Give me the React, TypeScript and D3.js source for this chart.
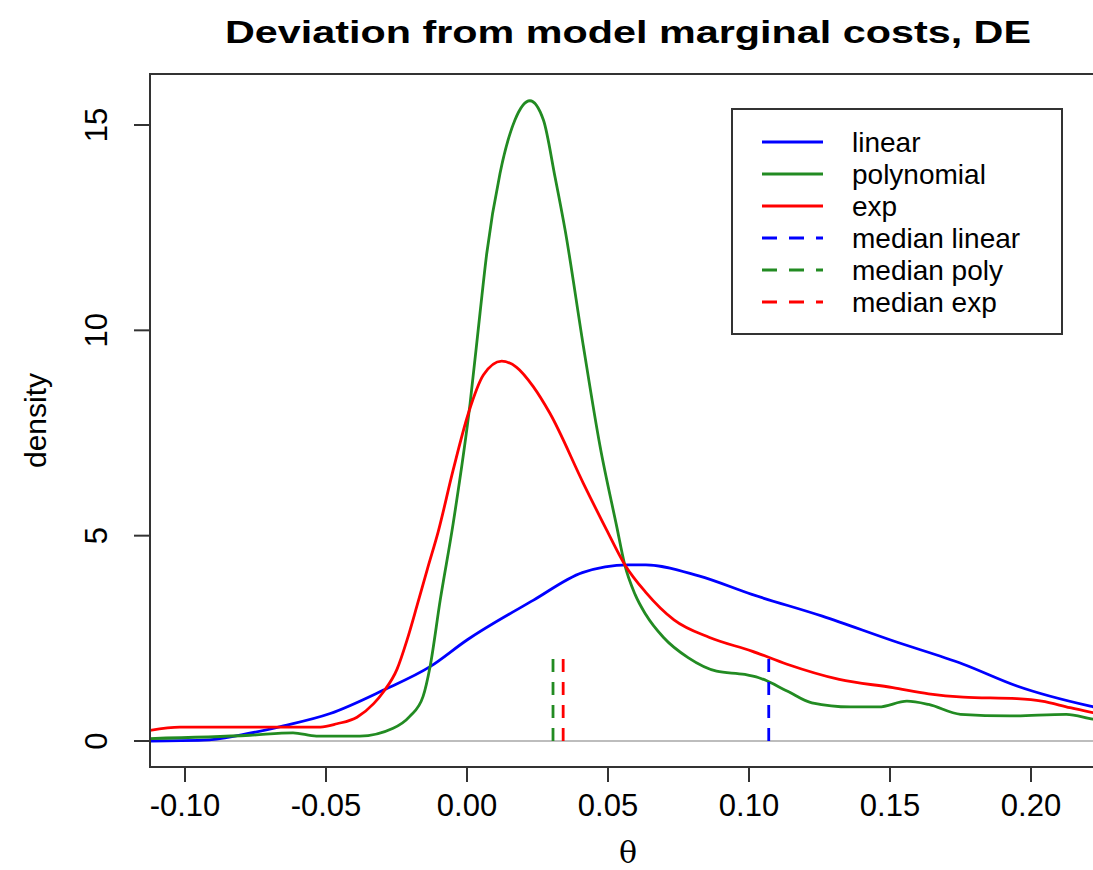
import React from "react";
import * as d3 from "d3";

const linearX = [-0.1124, -0.0935, -0.08, -0.0651, -0.0485, -0.0296, -0.0131, 0.0, 0.0236, 0.0409, 0.0571, 0.0634, 0.0822, 0.101, 0.126, 0.151, 0.176, 0.195, 0.221, 0.23];
const linearY = [0.0, 0.02, 0.15, 0.37, 0.67, 1.24, 1.81, 2.46, 3.43, 4.1, 4.29, 4.29, 4.02, 3.57, 3.04, 2.44, 1.87, 1.34, 0.85, 0.72];

const polyX = [-0.1124, -0.077, -0.0617, -0.0534, -0.038, -0.0262, -0.0203, -0.0156, -0.0131, -0.0095, -0.0049, 0.0011, 0.0046, 0.007, 0.0117, 0.017, 0.0223, 0.0271, 0.0312, 0.0348, 0.0413, 0.0472, 0.0531, 0.0559, 0.0596, 0.0634, 0.0697, 0.0784, 0.0885, 0.0985, 0.1035, 0.1135, 0.1223, 0.136, 0.146, 0.156, 0.1637, 0.175, 0.1925, 0.2125, 0.222, 0.23];
const polyY = [0.06, 0.14, 0.2, 0.12, 0.12, 0.31, 0.6, 1.08, 1.81, 3.43, 5.3, 8.22, 10.41, 11.87, 13.82, 15.12, 15.59, 15.12, 13.74, 12.44, 9.6, 7.17, 5.22, 4.3, 3.57, 3.08, 2.52, 2.03, 1.7, 1.62, 1.54, 1.22, 0.93, 0.83, 0.83, 0.97, 0.89, 0.65, 0.61, 0.65, 0.53, 0.45];

const expX = [-0.1124, -0.1018, -0.052, -0.0461, -0.039, -0.0331, -0.0296, -0.0248, -0.0213, -0.0177, -0.014, -0.0102, -0.0049, 0.0005, 0.0058, 0.0123, 0.0176, 0.0235, 0.0294, 0.0413, 0.0495, 0.0559, 0.0634, 0.0734, 0.086, 0.101, 0.1135, 0.132, 0.151, 0.1637, 0.176, 0.195, 0.2038, 0.2138, 0.222, 0.23];
const expY = [0.26, 0.34, 0.34, 0.42, 0.58, 0.91, 1.2, 1.75, 2.45, 3.3, 4.2, 5.1, 6.6, 7.98, 8.91, 9.25, 9.1, 8.63, 7.98, 6.27, 5.14, 4.3, 3.62, 2.95, 2.52, 2.19, 1.87, 1.5, 1.3, 1.15, 1.07, 1.03, 0.97, 0.81, 0.69, 0.6];

const medianNames = ["median linear", "median poly", "median exp"];
const medianValues = [0.107, 0.0305, 0.0341];
const medianHeight = 2;

const xTicks = [-0.1, -0.05, 0.0, 0.05, 0.1, 0.15, 0.2];
const yTicks = [0, 5, 10, 15];

const seriesNames = ["linear", "polynomial", "exp"];
const seriesColors = ["#0000FF", "#228B22", "#FF0000"];

const W = 1093;
const H = 870;
const left = 150;
const right = 1098;
const top = 74;
const bottom = 767;

export default function App() {
  const x = d3.scaleLinear().domain([0, 0.2]).range([467, 1031]);
  const y = d3.scaleLinear().domain([0, 15]).range([741, 125]);
  const line = d3
    .line<[number, number]>()
    .x((d) => x(d[0]))
    .y((d) => y(d[1]))
    .curve(d3.curveMonotoneX);

  const series = [
    linearX.map((v, i) => [v, linearY[i]] as [number, number]),
    polyX.map((v, i) => [v, polyY[i]] as [number, number]),
    expX.map((v, i) => [v, expY[i]] as [number, number]),
  ];

  const font = "'Liberation Sans', Arial, sans-serif";
  const legendRows = [
    ...seriesNames.map((n, i) => ({ name: n, color: seriesColors[i], dash: false })),
    ...medianNames.map((n, i) => ({ name: n, color: seriesColors[i], dash: true })),
  ];
  const lgX = 732;
  const lgY = 109;
  const lgW = 330;
  const lgH = 225;

  return (
    <svg
      width={W}
      height={H}
      style={{ position: "absolute", left: 0, top: 0, background: "#fff" }}
      fontFamily={font}
    >
      <defs>
        <clipPath id="plotclip">
          <rect x={left} y={top} width={right - left} height={bottom - top} />
        </clipPath>
      </defs>
      <rect x={0} y={0} width={W} height={H} fill="#fff" />
      <text x={628} y={43} textAnchor="middle" fontWeight="bold" fontSize={32} textLength={806} lengthAdjust="spacingAndGlyphs">
        Deviation from model marginal costs, DE
      </text>

      <g clipPath="url(#plotclip)">
        <line x1={left} x2={right} y1={y(0)} y2={y(0)} stroke="#bdbdbd" strokeWidth={2} />
        {series.map((s, i) => (
          <path key={i} d={line(s) || ""} fill="none" stroke={seriesColors[i]} strokeWidth={2.8} />
        ))}
        {medianValues.map((m, i) => (
          <line
            key={"m" + i}
            x1={x(m)}
            x2={x(m)}
            y1={y(0)}
            y2={y(medianHeight)}
            stroke={seriesColors[i]}
            strokeWidth={2.8}
            strokeDasharray="13,10"
          />
        ))}
      </g>

      <rect x={left} y={top} width={right - left} height={bottom - top} fill="none" stroke="#333" strokeWidth={2} />

      {xTicks.map((t) => (
        <g key={"xt" + t}>
          <line x1={x(t)} x2={x(t)} y1={bottom} y2={bottom + 15} stroke="#333" strokeWidth={2} />
          <text x={x(t)} y={816} textAnchor="middle" fontSize={31}>
            {t.toFixed(2)}
          </text>
        </g>
      ))}
      {yTicks.map((t) => (
        <g key={"yt" + t}>
          <line x1={left - 16} x2={left} y1={y(t)} y2={y(t)} stroke="#333" strokeWidth={2} />
          <text transform={`translate(107,${y(t)}) rotate(-90)`} textAnchor="middle" fontSize={31}>
            {String(t)}
          </text>
        </g>
      ))}

      <text x={628} y={863} textAnchor="middle" fontSize={30} fontFamily="'DejaVu Serif', serif">
        θ
      </text>
      <text transform={`translate(46,${(top + bottom) / 2}) rotate(-90)`} textAnchor="middle" fontSize={30}>
        density
      </text>

      <rect x={lgX} y={lgY} width={lgW} height={lgH} fill="#fff" stroke="#333" strokeWidth={2} />
      {legendRows.map((r, i) => {
        const cy = 142 + i * 32;
        return (
          <g key={"lg" + i}>
            <line
              x1={762}
              x2={823}
              y1={cy}
              y2={cy}
              stroke={r.color}
              strokeWidth={2.8}
              strokeDasharray={r.dash ? "15,12" : undefined}
            />
            <text x={852} y={cy + 10} fontSize={28}>
              {r.name}
            </text>
          </g>
        );
      })}
    </svg>
  );
}
